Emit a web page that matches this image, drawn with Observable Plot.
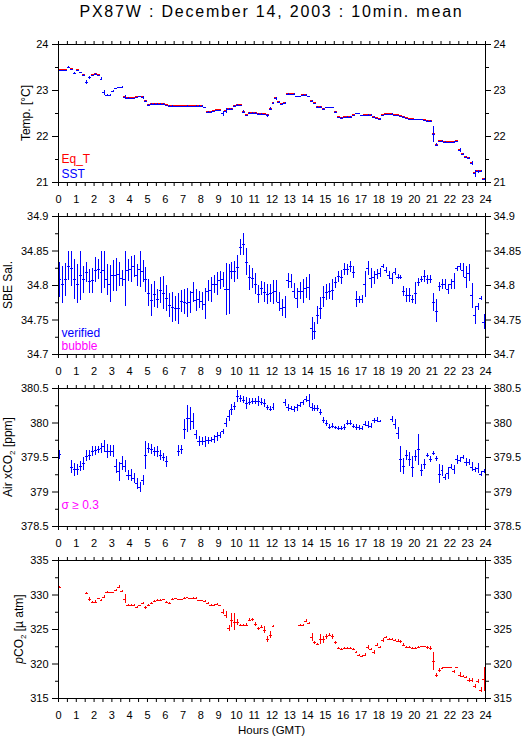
<!DOCTYPE html>
<html><head><meta charset="utf-8">
<script src="https://cdn.jsdelivr.net/npm/d3@7"></script>
<script src="https://cdn.jsdelivr.net/npm/@observablehq/plot@0.6"></script>
<style>
body{margin:0;background:#fff;}
#chart{position:relative;width:529px;height:739px;font-family:"Liberation Sans",Arial,sans-serif;color:#000;overflow:hidden;background:#fff;}
.title{position:absolute;left:58px;width:427px;top:4px;text-align:center;font-size:16px;line-height:16px;letter-spacing:1.8px;white-space:nowrap;}
.ylab{position:absolute;font-size:12px;line-height:12px;white-space:nowrap;transform:translate(-50%,-50%) rotate(-90deg);}
.ylab .sub{font-size:8px;position:relative;top:3px;}
.xlab{position:absolute;left:58px;width:427px;top:724px;text-align:center;font-size:11.5px;line-height:12px;white-space:nowrap;}
.panel{position:absolute;left:0;}
</style></head><body><div id="chart"></div><script>
// ---------- axis ticks ----------
const hourTicks = [0,1,2,3,4,5,6,7,8,9,10,11,12,13,14,15,16,17,18,19,20,21,22,23,24];
const halfTicks = [0.5,1.5,2.5,3.5,4.5,5.5,6.5,7.5,8.5,9.5,10.5,11.5,12.5,13.5,14.5,15.5,16.5,17.5,18.5,19.5,20.5,21.5,22.5,23.5];
const tempTicks = [21,22,23,24];
const tempMinor = [21.5,22.5,23.5];
const salTicks = [34.7,34.75,34.8,34.85,34.9];
const salMinor = [34.725,34.775,34.825,34.875];
const airTicks = [378.5,379,379.5,380,380.5];
const airMinor = [378.75,379.25,379.75,380.25];
const pco2Ticks = [315,320,325,330,335];
const pco2Minor = [317.5,322.5,327.5,332.5];

// ---------- 10-minute means (slot i = i*10 min after 0 GMT) ----------
const sst = [
23.43,23.43,23.43,23.50,23.45,23.38,23.43,23.39,23.32,23.17,
23.28,23.32,23.35,23.32,23.25,22.95,22.90,22.90,22.98,23.04,
23.06,23.07,22.85,22.83,22.82,22.82,22.84,22.86,22.84,22.77,
22.68,22.70,22.70,22.70,22.70,22.70,22.67,22.66,22.66,22.65,
22.65,22.65,22.65,22.66,22.65,22.65,22.66,22.66,22.66,22.62,
22.52,22.53,22.54,22.56,22.56,22.49,22.55,22.59,22.59,22.66,
22.68,22.67,22.53,22.45,22.51,22.51,22.51,22.48,22.48,22.47,
22.45,22.59,22.72,22.82,22.75,22.70,22.72,22.91,22.91,22.92,
22.87,22.87,22.90,22.90,22.86,22.77,22.71,22.64,22.64,22.59,
22.62,22.62,22.62,22.53,22.41,22.40,22.41,22.42,22.42,22.45,
22.50,22.49,22.45,22.45,22.46,22.46,22.42,22.39,22.38,22.45,
22.47,22.47,22.48,22.45,22.45,22.43,22.42,22.39,22.37,22.37,
22.36,22.36,22.36,22.34,22.33,22.33,22.04,21.81,21.89,21.90,
21.88,21.87,21.87,21.88,21.89,21.70,21.61,21.55,21.52,21.41,
21.19,21.23,21.24,21.07];
const sstErr = [
0.01,0.01,0.01,0.02,0.01,0.01,0.01,0.01,0.02,0.04,
0.03,0.01,0.01,0.01,0.03,0.06,0.01,0.01,0.03,0.01,
0.01,0.01,0.05,0.01,0.01,0.01,0.01,0.01,0.03,0.01,
0.01,0.01,0.01,0.01,0.01,0.01,0.01,0.01,0.01,0.01,
0.01,0.01,0.01,0.01,0.01,0.01,0.01,0.01,0.01,0.01,
0.02,0.01,0.01,0.01,0.01,0.05,0.05,0.01,0.01,0.01,
0.01,0.01,0.03,0.01,0.01,0.01,0.01,0.01,0.01,0.01,
0.03,0.03,0.01,0.03,0.01,0.01,0.03,0.02,0.01,0.01,
0.01,0.01,0.02,0.01,0.02,0.01,0.01,0.01,0.01,0.02,
0.01,0.01,0.01,0.02,0.01,0.01,0.01,0.01,0.01,0.01,
0.01,0.01,0.01,0.01,0.01,0.01,0.01,0.01,0.01,0.01,
0.01,0.01,0.01,0.01,0.01,0.01,0.01,0.01,0.01,0.01,
0.01,0.01,0.01,0.01,0.01,0.01,0.17,0.03,0.01,0.01,
0.01,0.01,0.01,0.01,0.01,0.04,0.02,0.02,0.02,0.04,
0.08,0.03,0.02,0.02];
const eqT = [
23.45,23.45,23.45,23.51,23.47,null,23.45,null,23.34,null,
null,23.34,23.37,23.34,null,null,null,null,null,null,
null,null,22.87,22.85,22.84,22.84,22.86,22.88,22.86,22.79,
22.70,22.72,22.72,22.72,22.72,22.72,22.69,22.68,22.68,22.67,
22.67,22.67,22.67,22.68,22.67,22.67,22.68,22.68,22.68,22.64,
22.54,22.55,22.56,22.58,22.58,22.51,22.57,22.61,22.61,22.68,
22.70,22.69,22.55,22.47,22.53,22.53,22.53,22.50,22.50,22.49,
22.47,22.61,22.74,22.84,22.77,22.72,22.74,22.93,22.93,22.94,
null,null,22.92,22.92,22.88,22.79,22.73,22.66,22.66,22.61,
22.64,22.64,22.64,22.55,22.43,22.42,22.43,22.44,22.44,22.47,
null,null,null,22.47,22.48,22.48,22.44,22.41,22.40,22.47,
22.49,22.49,22.50,22.47,22.47,22.45,22.44,22.41,22.39,22.39,
22.38,22.38,22.38,22.36,22.35,22.35,22.06,21.83,21.91,21.92,
21.90,21.89,21.89,21.90,21.91,21.72,21.63,21.57,21.54,21.43,
21.22,21.26,21.27,21.09];

const sal = [
34.808,34.801,34.808,34.828,34.824,34.808,34.802,34.814,34.808,34.819,
34.806,34.807,34.822,34.823,34.819,34.822,34.808,34.802,34.814,34.815,
34.816,34.810,34.809,34.822,34.823,34.828,34.815,34.823,34.820,34.808,
34.789,34.778,34.787,34.780,34.793,34.789,34.781,34.771,34.768,34.766,
34.766,34.777,34.776,34.774,34.775,34.790,34.778,34.779,34.777,34.773,
34.792,34.793,34.802,34.802,34.807,34.808,34.794,34.794,34.821,34.820,
34.826,34.855,34.859,34.834,34.811,34.810,34.802,34.787,34.796,34.790,
34.787,34.789,34.790,34.791,34.776,34.767,34.768,34.807,34.806,34.792,
34.781,34.792,34.791,34.796,34.797,34.737,34.734,34.757,34.767,34.783,
34.790,34.791,34.793,34.804,34.813,34.812,34.823,34.823,34.827,34.819,
34.780,34.779,34.780,34.801,34.825,34.810,34.811,34.816,34.818,34.828,
34.822,34.814,34.810,34.819,34.812,34.811,34.791,34.785,34.785,34.780,
34.789,34.804,34.809,34.813,34.808,34.809,34.776,34.763,34.798,34.801,
34.801,34.794,34.801,34.806,34.824,34.827,34.822,34.811,34.818,34.785,
34.757,34.769,34.781,34.747];
const salErr = [
0.025,0.027,0.024,0.021,0.025,0.029,0.028,0.036,0.019,0.015,
0.017,0.018,0.018,0.015,0.031,0.027,0.023,0.027,0.022,0.024,
0.017,0.012,0.040,0.016,0.019,0.016,0.016,0.026,0.016,0.018,
0.019,0.023,0.019,0.014,0.019,0.024,0.019,0.017,0.022,0.018,
0.023,0.016,0.018,0.021,0.016,0.015,0.016,0.012,0.013,0.022,
0.015,0.018,0.013,0.017,0.013,0.011,0.038,0.036,0.013,0.015,
0.018,0.011,0.016,0.019,0.018,0.014,0.015,0.013,0.010,0.015,
0.015,0.013,0.017,0.016,0.014,0.012,0.016,0.011,0.010,0.011,
0.014,0.013,0.017,0.015,0.019,0.016,0.012,0.013,0.016,0.015,
0.012,0.012,0.015,0.008,0.008,0.010,0.009,0.008,0.008,0.009,
0.012,0.005,0.006,0.019,0.010,0.015,0.009,0.007,0.007,0.003,
0.004,0.006,0.008,0.005,0.004,0.003,0.007,0.010,0.010,0.006,
0.016,0.006,0.004,0.009,0.007,0.006,0.013,0.016,0.007,0.007,
0.007,0.007,0.007,0.012,0.003,0.005,0.010,0.016,0.012,0.018,
0.013,0.005,0.003,0.011];

const airCO2 = [
379.54,null,null,null,379.36,379.32,379.32,379.37,379.41,379.52,
379.53,379.59,379.60,379.61,379.63,379.66,379.59,379.59,379.59,379.37,
379.29,379.41,379.37,379.24,379.24,379.19,379.12,379.07,379.17,379.53,
379.63,379.61,379.58,379.58,379.53,379.50,379.44,null,null,null,
379.59,379.61,379.90,380.06,380.06,380.02,379.83,379.73,379.73,379.73,
379.74,379.75,379.76,379.80,379.82,379.87,380.00,380.10,380.19,380.24,
380.38,380.35,380.33,380.28,380.30,380.31,380.31,380.31,380.30,380.28,
380.22,380.20,380.23,null,null,null,380.29,380.22,380.21,380.19,
380.22,380.26,380.29,380.34,380.32,380.22,380.21,380.21,380.15,380.04,
379.99,379.94,379.95,379.93,379.92,379.92,379.93,380.00,380.00,379.95,
379.94,379.93,379.92,379.98,379.97,379.95,380.03,380.04,380.02,null,
null,null,380.05,379.98,379.85,379.47,379.37,379.53,379.47,379.36,
379.52,379.61,379.31,379.40,379.53,379.47,379.56,379.48,379.26,379.31,
379.21,379.27,379.36,379.32,379.47,379.46,379.50,379.43,379.43,379.36,
379.32,379.34,379.26,379.29];
const airErr = [
0.068,0,0,0,0.097,0.097,0.080,0.068,0.092,0.078,
0.073,0.073,0.065,0.048,0.068,0.085,0.104,0.080,0.085,0.104,
0.133,0.102,0.085,0.073,0.085,0.073,0.078,0.073,0.073,0.206,
0.078,0.073,0.065,0.073,0.068,0.063,0.078,0,0,0,
0.078,0.063,0.145,0.194,0.170,0.121,0.063,0.068,0.063,0.080,
0.053,0.034,0.063,0.063,0.048,0.034,0.063,0.085,0.085,0.063,
0.085,0.048,0.048,0.085,0.048,0.048,0.048,0.073,0.048,0.060,
0.036,0.036,0.048,0,0,0,0.048,0.048,0.036,0.044,
0.048,0.034,0.039,0.044,0.092,0.060,0.048,0.041,0.048,0.044,
0.044,0.039,0.036,0.024,0.029,0.029,0.044,0.036,0.034,0.034,
0.044,0.036,0.029,0.036,0.048,0.036,0.031,0.039,0.015,0,
0,0,0.041,0.073,0.085,0.194,0.114,0.078,0.097,0.152,
0.085,0.225,0.090,0.078,0.029,0.041,0.031,0.041,0.133,0.080,
0.048,0.092,0.039,0.065,0.065,0.039,0.031,0.060,0.041,0.068,
0.036,0.068,0.036,0.029];

const pco2 = [
331.14,null,null,null,null,null,null,null,null,330.18,
329.36,328.98,328.98,329.46,329.22,329.70,330.33,330.33,330.33,330.66,
331.14,330.57,329.36,328.49,328.49,328.49,328.25,328.45,328.73,328.16,
328.45,328.83,329.12,329.22,329.22,329.30,328.98,328.83,329.36,329.46,
329.31,329.31,329.50,329.60,329.46,329.55,329.55,329.17,329.17,329.07,
328.83,328.45,328.54,328.64,328.45,327.53,327.05,325.12,326.33,326.08,
326.04,325.55,325.60,325.65,326.33,326.42,325.75,325.12,325.36,324.90,
323.53,324.16,325.46,null,null,null,null,null,null,null,
null,325.60,325.60,326.23,325.84,323.82,323.05,322.81,323.53,323.53,
323.92,324.16,323.92,323.05,322.23,322.13,322.23,322.23,322.23,322.13,
321.65,321.27,321.12,321.27,322.37,322.08,321.65,322.71,322.37,323.43,
323.82,323.53,323.53,323.43,323.29,323.19,322.71,322.37,322.37,322.23,
322.23,322.37,322.47,322.47,322.37,322.23,320.30,318.37,319.10,319.34,
319.43,319.43,319.43,318.86,319.43,318.37,318.13,318.04,317.65,317.55,
316.78,317.41,316.20,317.75];
const pco2Err = [
0.10,0,0,0,0,0,0,0,0,0.12,
0.27,0.15,0.20,0.10,0.15,0.20,0.15,0.08,0.08,0.15,
0.20,0.10,0.65,0.20,0.10,0.10,0.15,0.10,0.15,0.20,
0.15,0.10,0.08,0.15,0.10,0.10,0.15,0.10,0.15,0.10,
0.10,0.10,0.08,0.10,0.10,0.15,0.10,0.10,0.10,0.12,
0.15,0.15,0.10,0.15,0.10,0.30,0.50,0.40,1.00,1.20,
0.40,0.15,0.10,0.20,0.20,0.20,0.30,0.20,0.15,0.50,
0.40,0.50,0.10,0,0,0,0,0,0,0,
0,0.10,0.10,0.15,0.15,0.60,0.20,0.10,0.70,0.50,
0.30,0.20,0.30,0.20,0.10,0.10,0.10,0.10,0.10,0.10,
0.20,0.10,0.10,0.20,0.25,0.15,0.25,0.20,0.15,0.30,
0.15,0.10,0.10,0.15,0.20,0.15,0.20,0.10,0.10,0.20,
0.15,0.10,0.10,0.10,0.20,0.30,1.30,0.30,0.30,0.15,
0.10,0.10,0.10,0.20,0.10,0.35,0.15,0.15,0.30,0.30,
0.30,0.30,0.35,1.70];

// ---------- helpers ----------
const FONT = '"Liberation Sans", Arial, sans-serif';
const BLUE = "#0000ff", RED = "#ff0000", MAGENTA = "#ff00ff";

function rows(vals, errs) {
  const out = [];
  vals.forEach((v, i) => {
    if (v == null) return;
    const e = errs ? errs[i] : 0;
    out.push({t0: i / 6, t1: (i + 1) / 6, tc: (i + 0.5) / 6, v, lo: v - e, hi: v + e});
  });
  return out;
}

function seriesMarks(vals, errs, color) {
  const r = rows(vals, errs);
  const m = [Plot.ruleY(r, {x1: "t0", x2: "t1", y: "v", stroke: color, strokeWidth: 1, shapeRendering: "crispEdges"})];
  if (errs) m.push(Plot.ruleX(r, {x: "tc", y1: "lo", y2: "hi", stroke: color, strokeWidth: 1, shapeRendering: "crispEdges"}));
  return m;
}

function panel({domain, ticks, minor, series, legends}) {
  const fmt = d => String(d);
  const none = () => "";
  return Plot.plot({
    width: 529, height: 188,
    marginLeft: 58, marginRight: 44, marginTop: 20, marginBottom: 30,
    style: {background: "transparent", overflow: "visible", fontFamily: FONT, fontSize: "11px", color: "#000"},
    x: {domain: [0, 24], axis: null, label: null},
    y: {domain, axis: null, label: null},
    marks: [
      ...series.flatMap(s => seriesMarks(s.vals, s.errs, s.color)),
      Plot.frame({stroke: "#000", shapeRendering: "crispEdges"}),
      Plot.axisX({anchor: "top", ticks: hourTicks.concat(halfTicks), tickSize: 4, tickFormat: none, label: null}),
      Plot.axisX({anchor: "bottom", ticks: hourTicks, tickSize: 4, tickPadding: 9, tickFormat: fmt, label: null}),
      Plot.axisX({anchor: "bottom", ticks: halfTicks, tickSize: 4, tickFormat: none, label: null}),
      Plot.axisY({anchor: "left", ticks, tickSize: 6, tickPadding: 4, tickFormat: fmt, label: null}),
      Plot.axisY({anchor: "left", ticks: minor, tickSize: 3, tickFormat: none, label: null}),
      Plot.axisY({anchor: "right", ticks, tickSize: 5, tickPadding: 3, tickFormat: fmt, label: null}),
      Plot.axisY({anchor: "right", ticks: minor, tickSize: 3, tickFormat: none, label: null}),
      ...legends.map(l => Plot.text([l.text], {text: d => d, frameAnchor: "bottom-left", textAnchor: "start", lineAnchor: "bottom", dx: 3, dy: l.dy, fill: l.color, fontSize: 12}))
    ]
  });
}

const chart = document.getElementById("chart");
const title = document.createElement("div");
title.className = "title";
title.textContent = "PX87W : December 14, 2003 : 10min. mean";
chart.appendChild(title);

const panels = [
  {frameTop: 44, domain: [21, 24], ticks: tempTicks, minor: tempMinor,
   series: [{vals: eqT, errs: null, color: RED}, {vals: sst, errs: sstErr, color: BLUE}],
   legends: [{text: "Eq_T", color: RED, dy: -20}, {text: "SST", color: BLUE, dy: -5}],
   ylab: "Temp. [°C]", ylabX: 25.5},
  {frameTop: 216, domain: [34.7, 34.9], ticks: salTicks, minor: salMinor,
   series: [{vals: sal, errs: salErr, color: BLUE}],
   legends: [{text: "verified", color: BLUE, dy: -18}, {text: "bubble", color: MAGENTA, dy: -5}],
   ylab: "SBE Sal.", ylabX: 8},
  {frameTop: 388, domain: [378.5, 380.5], ticks: airTicks, minor: airMinor,
   series: [{vals: airCO2, errs: airErr, color: BLUE}],
   legends: [{text: "σ ≥ 0.3", color: MAGENTA, dy: -18}],
   ylab: 'Air xCO<span class="sub">2</span> [ppm]', ylabX: 9},
  {frameTop: 560, domain: [315, 335], ticks: pco2Ticks, minor: pco2Minor,
   series: [{vals: pco2, errs: pco2Err, color: RED}],
   legends: [],
   ylab: '<i>p</i>CO<span class="sub">2</span> [µ atm]', ylabX: 20}
];

panels.forEach(p => {
  const svg = panel(p);
  svg.classList.add("panel");
  svg.style.position = "absolute";
  svg.style.top = (p.frameTop - 20) + "px";
  svg.style.left = "0px";
  chart.appendChild(svg);
  const yl = document.createElement("div");
  yl.className = "ylab";
  yl.innerHTML = p.ylab;
  yl.style.left = p.ylabX + "px";
  yl.style.top = (p.frameTop + 69) + "px";
  chart.appendChild(yl);
});

const xl = document.createElement("div");
xl.className = "xlab";
xl.textContent = "Hours (GMT)";
chart.appendChild(xl);
</script></body></html>
